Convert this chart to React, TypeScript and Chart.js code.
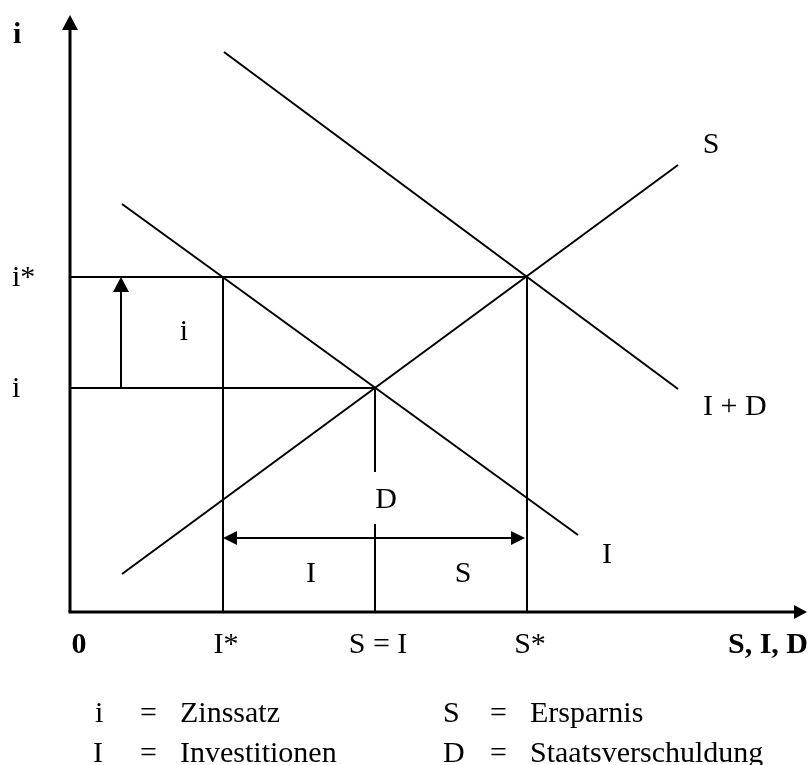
import React, { useEffect, useRef } from "react";
import { Chart, registerables } from "chart.js";

Chart.register(...registerables);

// ---- model values (data units) ----
const X_MAX = 737;
const Y_MAX = 597;
const I_STAR = 153; // I*
const S_EQ_I = 305; // S = I
const S_STAR = 457; // S*
const RATE = 224; // i
const RATE_STAR = 335; // i*

const savingsCurve = [
  { x: 52, y: 38 },
  { x: 608, y: 447 },
];
const investmentCurve = [
  { x: 52, y: 408 },
  { x: 508, y: 77 },
];
const investmentDebtCurve = [
  { x: 154, y: 560 },
  { x: 608, y: 223 },
];

const xTickValues = [0, I_STAR, S_EQ_I, S_STAR, X_MAX];
const xTickLabels = ["0", "I*", "S = I", "S*", "S, I, D"];
const yTickValues = [RATE_STAR, RATE];
const yTickLabels = ["i*", "i"];
const yAxisTitle = "i";

const legendSymbols = ["i", "I", "S", "D"];
const legendTexts = ["Zinssatz", "Investitionen", "Ersparnis", "Staatsverschuldung"];

const FONT = "'Liberation Serif', 'Times New Roman', serif";
const F = (bold: boolean) => `${bold ? "bold " : ""}30px ${FONT}`;

const seg = (data: { x: number; y: number }[], width = 2) => ({
  type: "line" as const,
  data,
  borderColor: "#000",
  borderWidth: width,
  pointRadius: 0,
  showLine: true,
  fill: false,
  tension: 0,
  clip: false as any,
  borderCapStyle: "butt" as const,
});

const overlay = {
  id: "overlay",
  afterDatasetsDraw(chart: any) {
    const ctx = chart.ctx as CanvasRenderingContext2D;
    const xs = chart.scales.x;
    const ys = chart.scales.y;
    const px = (v: number) => xs.getPixelForValue(v);
    const py = (v: number) => ys.getPixelForValue(v);

    const head = (tx: number, ty: number, dx: number, dy: number, len: number, half: number) => {
      // tip at (tx,ty), direction (dx,dy) unit
      const bx = tx - dx * len;
      const by = ty - dy * len;
      ctx.beginPath();
      ctx.moveTo(tx, ty);
      ctx.lineTo(bx - dy * half, by + dx * half);
      ctx.lineTo(bx + dy * half, by - dx * half);
      ctx.closePath();
      ctx.fillStyle = "#000";
      ctx.fill();
    };

    ctx.save();
    // axis arrowheads
    head(px(0), py(Y_MAX), 0, -1, 15, 8);
    head(px(X_MAX), py(0), 1, 0, 13, 7);
    // rise of interest rate arrow
    head(px(51), py(RATE_STAR), 0, -1, 15, 8);
    // double arrow
    head(px(I_STAR), py(74), -1, 0, 14, 7);
    head(px(S_STAR - 2), py(74), 1, 0, 14, 7);

    ctx.fillStyle = "#000";
    ctx.textBaseline = "alphabetic";

    // y-axis title
    ctx.font = F(true);
    ctx.textAlign = "left";
    ctx.fillText(yAxisTitle, 13, py(Y_MAX) + 28);

    // y tick labels
    ctx.font = F(false);
    yTickLabels.forEach((t, k) => {
      ctx.fillText(t, 12, py(yTickValues[k]) + 9);
    });

    // x tick labels
    xTickLabels.forEach((t, k) => {
      const v = xTickValues[k];
      const bold = k === 0 || k === xTickLabels.length - 1;
      ctx.font = F(bold);
      let x = px(v);
      if (k === 0) {
        ctx.textAlign = "center";
        x += 9;
      } else if (k === xTickLabels.length - 1) {
        ctx.textAlign = "right";
        x += 1;
      } else {
        ctx.textAlign = "center";
        x += 3;
      }
      ctx.fillText(t, x, py(0) + 41);
    });

    // in-chart labels
    ctx.font = F(false);
    const lab = (t: string, x: number, y: number, align: CanvasTextAlign = "center") => {
      ctx.textAlign = align;
      ctx.fillText(t, px(x), py(y));
    };
    lab("i", 114, 272);
    lab("D", 316, 104);
    lab("I", 241, 30);
    lab("S", 393, 30);
    lab("S", 641, 459);
    lab("I + D", 633, 197, "left");
    lab("I", 537, 49);

    // legend
    const rows = [722, 762];
    const cols = [93, 443];
    legendSymbols.forEach((s, k) => {
      const col = Math.floor(k / 2);
      const row = k % 2;
      const x0 = cols[col];
      const y0 = rows[row];
      ctx.textAlign = "left";
      ctx.fillText(s, x0 + (s === "i" ? 2 : 0), y0);
      ctx.fillText("=", x0 + 47, y0);
      ctx.fillText(legendTexts[k], x0 + 87, y0);
    });
    ctx.restore();
  },
};

export default function App() {
  const ref = useRef<HTMLCanvasElement>(null);
  useEffect(() => {
    if (!ref.current) return;
    const chart = new Chart(ref.current, {
      type: "scatter",
      data: {
        datasets: [
          // axes
          seg([{ x: 0, y: 0 }, { x: 0, y: Y_MAX - 12 }], 3),
          seg([{ x: -1.5, y: 0 }, { x: X_MAX - 10, y: 0 }], 3),
          // supply / demand curves
          seg(savingsCurve),
          seg(investmentCurve),
          seg(investmentDebtCurve),
          // guide lines
          seg([{ x: 0, y: RATE_STAR }, { x: S_STAR, y: RATE_STAR }]),
          seg([{ x: 0, y: RATE }, { x: S_EQ_I, y: RATE }]),
          seg([{ x: I_STAR, y: 0 }, { x: I_STAR, y: RATE_STAR }]),
          seg([{ x: S_STAR, y: 0 }, { x: S_STAR, y: RATE_STAR }]),
          seg([{ x: S_EQ_I, y: RATE }, { x: S_EQ_I, y: 140 }]),
          seg([{ x: S_EQ_I, y: 0 }, { x: S_EQ_I, y: 88 }]),
          // interest rate rise arrow shaft
          seg([{ x: 51, y: RATE }, { x: 51, y: RATE_STAR - 12 }]),
          // double arrow shaft
          seg([{ x: I_STAR + 10, y: 74 }, { x: S_STAR - 12, y: 74 }]),
        ] as any,
      },
      options: {
        animation: false,
        responsive: false,
        devicePixelRatio: 1,
        layout: { padding: { left: 70, right: 1, top: 15, bottom: 153 } },
        scales: {
          x: { type: "linear", min: 0, max: X_MAX, display: false },
          y: { type: "linear", min: 0, max: Y_MAX, display: false },
        },
        plugins: {
          legend: { display: false },
          tooltip: { enabled: false },
        },
        events: [],
      },
      plugins: [overlay],
    });
    return () => chart.destroy();
  }, []);
  return (
    <div style={{ position: "fixed", left: 0, top: 0, width: 808, height: 765, background: "#fff" }}>
      <canvas ref={ref} width={808} height={765} style={{ display: "block", width: 808, height: 765 }} />
    </div>
  );
}
